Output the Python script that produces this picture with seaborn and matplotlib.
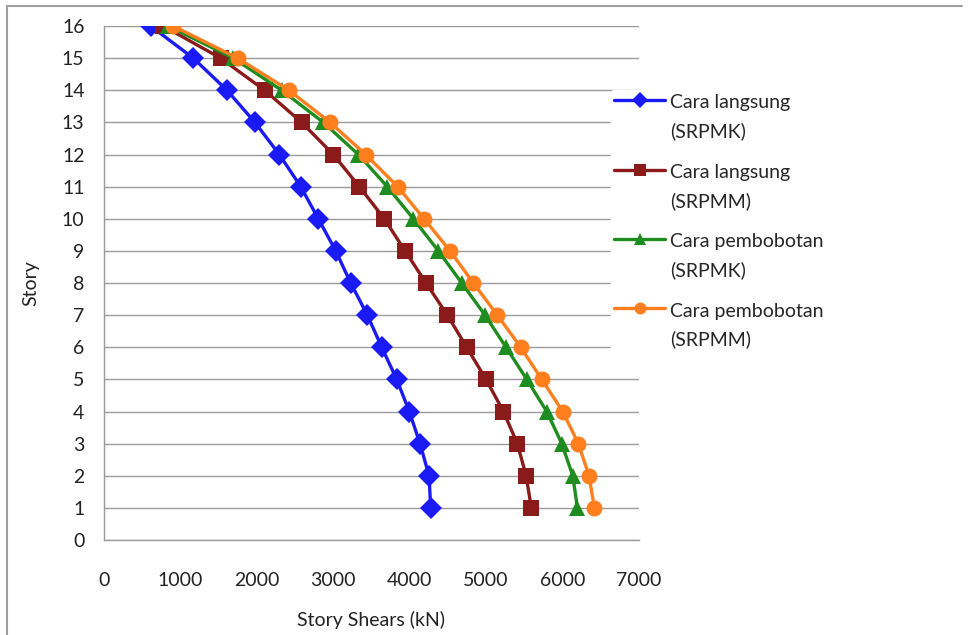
import numpy as np
import pandas as pd
from matplotlib import pyplot as plt
from matplotlib.lines import Line2D
import seaborn as sns

stories = list(range(16, 0, -1))

# story shears (kN), story 16 -> 1
langsung_srpmk = [611, 1169, 1610, 1976, 2295, 2575, 2805, 3033, 3229, 3447, 3635, 3831, 3996, 4136, 4254, 4276]
langsung_srpmm = [776, 1527, 2103, 2587, 3001, 3342, 3669, 3940, 4215, 4494, 4747, 5000, 5227, 5410, 5524, 5593]
bobot_srpmk = [842, 1693, 2325, 2871, 3329, 3708, 4049, 4376, 4682, 4987, 5262, 5533, 5795, 5991, 6135, 6196]
bobot_srpmm = [907, 1750, 2421, 2958, 3425, 3844, 4188, 4529, 4834, 5148, 5454, 5729, 6004, 6208, 6348, 6417]

labels = ['Cara langsung\n(SRPMK)', 'Cara langsung\n(SRPMM)',
          'Cara pembobotan\n(SRPMK)', 'Cara pembobotan\n(SRPMM)']
colors = ['#1A1AF5', '#8B1A1A', '#1E8C1E', '#FF7F1E']
markers = ['D', 's', '^', 'o']

frames = []
for lab, vals in zip(labels, [langsung_srpmk, langsung_srpmm, bobot_srpmk, bobot_srpmm]):
    frames.append(pd.DataFrame({'shear': vals, 'story': stories, 'series': lab}))
df = pd.concat(frames, ignore_index=True)

sns.set_style('white')
plt.rcParams['font.family'] = ['Lato', 'DejaVu Sans']

fig = plt.figure(figsize=(9.69, 6.35), dpi=100)
ax = fig.add_axes([0.1073, 0.1496, 0.552, 0.8094])

sns.lineplot(data=df, x='shear', y='story', hue='series', style='series',
             hue_order=labels, style_order=labels, palette=colors,
             markers=markers, dashes=False, estimator=None, sort=False,
             linewidth=2.4, markersize=11.5, markeredgewidth=0, ax=ax)

ax.set_xlim(0, 7000)
ax.set_ylim(0, 16)
ax.set_xticks(np.arange(0, 7001, 1000))
ax.set_yticks(np.arange(0, 17, 1))
ax.yaxis.grid(True, color='#9a9a9a', linewidth=1)
ax.xaxis.grid(False)
for s in ['top', 'right']:
    ax.spines[s].set_visible(False)
for s in ['left', 'bottom']:
    ax.spines[s].set_color('#9a9a9a')
    ax.spines[s].set_linewidth(1)
ax.tick_params(axis='both', which='both', direction='out', length=5, width=1,
               color='#9a9a9a', labelsize=14, labelcolor='#222222')
ax.tick_params(axis='x', pad=18)
ax.tick_params(axis='y', pad=9)
ax.set_xlabel('Story Shears (kN)', fontsize=14, color='#222222', labelpad=16)
ax.set_ylabel('Story', fontsize=14, color='#222222', labelpad=16)

leg = ax.legend(loc='upper left', bbox_to_anchor=(0.62, 0.873), bbox_transform=fig.transFigure,
                frameon=True, facecolor='white', edgecolor='white', framealpha=1,
                fontsize=14, handlelength=2.6, labelspacing=1.2, handletextpad=0.25,
                borderpad=0.2, markerscale=0.75, title=None)
for t in leg.get_texts():
    t.set_linespacing(1.75)
# put each legend handle level with the first text line, as in the original
for row in leg._legend_handle_box.get_children()[0].get_children():
    area = row.get_children()[0]
    for art in area.get_children():
        art.set_ydata(np.asarray(art.get_ydata()) + 12.5)

# outer frame
for xs, ys in [((0.007, 0.993), (0.991, 0.991)), ((0.007, 0.007), (0.0, 0.991))]:
    fig.add_artist(Line2D(xs, ys, transform=fig.transFigure, color='#a0a0a0', linewidth=1.5))

fig.savefig('out.png', dpi=100)
